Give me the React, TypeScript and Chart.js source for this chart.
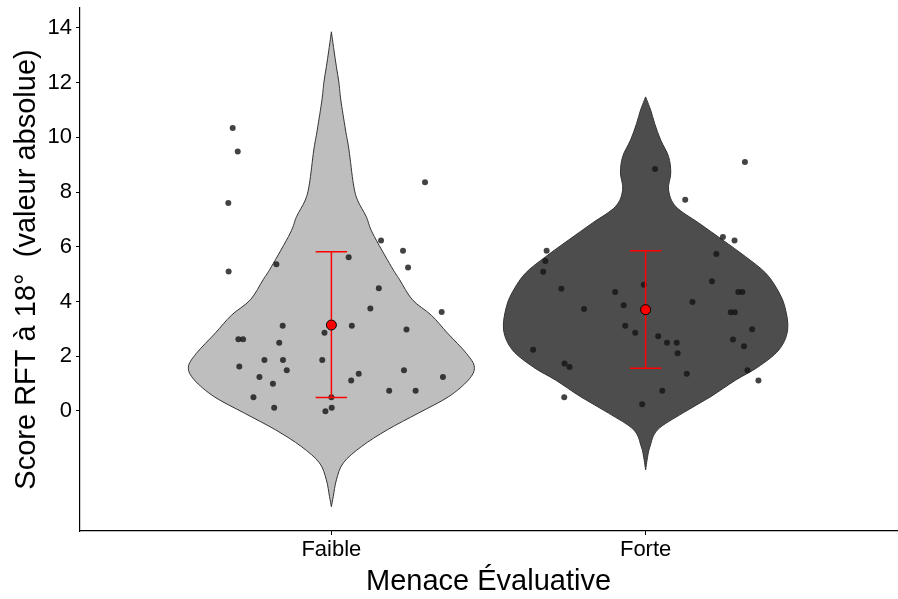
import React, { useEffect, useRef } from "react";
import { Chart, registerables } from "chart.js";

Chart.register(...registerables);

const categories = ["Faible", "Forte"];
const yTickValues = [0, 2, 4, 6, 8, 10, 12, 14];

// jittered observations
const faibleX = [0.686, 0.702, 0.672, 1.298, 1.158, 1.228, 1.055, 1.244, 0.825, 0.673, 1.151, 1.124, 1.351, 0.845, 1.065, 1.239, 0.978, 0.704, 0.719, 0.834, 0.787, 0.846, 0.971, 0.707, 0.858, 1.231, 1.087, 0.771, 1.355, 1.063, 0.814, 1.184, 1.268, 0.752, 1.0, 0.818, 1.001, 0.981];
const faibleY = [10.34, 9.48, 7.6, 8.36, 6.23, 5.86, 5.62, 5.24, 5.36, 5.1, 4.48, 3.74, 3.62, 3.11, 3.11, 2.98, 2.86, 2.62, 2.62, 2.49, 1.86, 1.86, 1.86, 1.62, 1.49, 1.49, 1.36, 1.24, 1.24, 1.11, 0.99, 0.74, 0.74, 0.5, 0.5, 0.12, 0.12, -0.01];
const forteX = [2.03, 2.316, 2.126, 2.246, 2.283, 1.685, 1.681, 1.674, 2.225, 1.994, 2.211, 1.732, 1.903, 2.295, 2.308, 1.93, 2.149, 1.804, 2.271, 2.284, 1.935, 1.967, 2.339, 2.04, 2.068, 2.099, 2.278, 2.102, 2.313, 1.642, 1.742, 1.758, 2.131, 2.324, 2.359, 2.053, 1.741, 1.989];
const forteY = [8.84, 9.1, 7.72, 6.36, 6.23, 5.86, 5.48, 5.09, 5.74, 4.61, 4.74, 4.47, 4.35, 4.35, 4.35, 3.86, 3.98, 3.73, 3.61, 3.61, 3.11, 2.86, 2.99, 2.73, 2.49, 2.49, 2.61, 2.11, 2.36, 2.24, 1.73, 1.61, 1.36, 1.49, 1.11, 0.74, 0.5, 0.24];

// summary statistics
const means = [3.14, 3.7];
const errLow = [0.49, 1.56];
const errHigh = [5.82, 5.86];

// violin density profiles (half-width in category units)
const violinFaibleY = [-3.5, -3.13, -2.52, -1.9, -1.3, -0.69, -0.08, 0.52, 1.13, 1.6, 2.1, 2.85, 3.5, 4.06, 4.8, 5.27, 6.5, 7.1, 7.71, 8.3, 9.54, 10.27, 11.37, 12.0, 12.58, 13.2, 13.86];
const violinFaibleW = [0, 0.006, 0.016, 0.038, 0.096, 0.178, 0.277, 0.373, 0.436, 0.455, 0.43, 0.369, 0.318, 0.258, 0.217, 0.191, 0.131, 0.111, 0.083, 0.07, 0.056, 0.045, 0.03, 0.024, 0.016, 0.008, 0];
const violinForteY = [-2.16, -1.7, -1.3, -0.69, -0.08, 0.52, 1.13, 1.6, 2.23, 2.96, 3.81, 4.42, 5.04, 5.64, 6.25, 6.87, 7.47, 8.08, 8.7, 9.3, 9.9, 10.5, 11.0, 11.48];
const violinForteW = [0, 0.006, 0.014, 0.038, 0.118, 0.207, 0.287, 0.357, 0.424, 0.452, 0.443, 0.42, 0.382, 0.318, 0.245, 0.169, 0.096, 0.073, 0.08, 0.073, 0.048, 0.029, 0.016, 0];

const violinFills = ["#bebebe", "#4d4d4d"];
const CAP = 0.05;
const FONT = "Liberation Sans, Arial, sans-serif";

const violins = [
  { center: 1, ys: violinFaibleY, ws: violinFaibleW, fill: violinFills[0] },
  { center: 2, ys: violinForteY, ws: violinForteW, fill: violinFills[1] },
];

function smoothPath(ctx: CanvasRenderingContext2D, pts: { x: number; y: number }[], move: boolean) {
  if (move) ctx.moveTo(pts[0].x, pts[0].y);
  else ctx.lineTo(pts[0].x, pts[0].y);
  for (let i = 0; i < pts.length - 1; i++) {
    const p0 = pts[Math.max(0, i - 1)];
    const p1 = pts[i];
    const p2 = pts[i + 1];
    const p3 = pts[Math.min(pts.length - 1, i + 2)];
    ctx.bezierCurveTo(
      p1.x + (p2.x - p0.x) / 6,
      p1.y + (p2.y - p0.y) / 6,
      p2.x - (p3.x - p1.x) / 6,
      p2.y - (p3.y - p1.y) / 6,
      p2.x,
      p2.y
    );
  }
}

const violinPlugin = {
  id: "violins",
  beforeDatasetsDraw(chart: any) {
    const { ctx, scales, chartArea } = chart;
    const xs = scales.x;
    const ys = scales.y;
    ctx.save();
    ctx.beginPath();
    ctx.rect(chartArea.left, chartArea.top, chartArea.right - chartArea.left, chartArea.bottom - chartArea.top);
    ctx.clip();
    for (const v of violins) {
      const left = v.ys.map((y, i) => ({ x: xs.getPixelForValue(v.center - v.ws[i]), y: ys.getPixelForValue(y) }));
      const right = v.ys
        .map((y, i) => ({ x: xs.getPixelForValue(v.center + v.ws[i]), y: ys.getPixelForValue(y) }))
        .reverse();
      ctx.beginPath();
      smoothPath(ctx, left, true);
      smoothPath(ctx, right, false);
      ctx.closePath();
      ctx.fillStyle = v.fill;
      ctx.fill();
      ctx.lineWidth = 1;
      ctx.strokeStyle = "#333333";
      ctx.stroke();
    }
    ctx.restore();
  },
};

export default function App() {
  const ref = useRef<HTMLCanvasElement | null>(null);
  useEffect(() => {
    if (!ref.current) return;
    const pointsData = [
      ...faibleX.map((x, i) => ({ x, y: faibleY[i] })),
      ...forteX.map((x, i) => ({ x, y: forteY[i] })),
    ];
    const errorData: any[] = [];
    means.forEach((_, i) => {
      const c = i + 1;
      errorData.push({ x: c, y: errLow[i] }, { x: c, y: errHigh[i] }, { x: c, y: null });
      errorData.push({ x: c - CAP, y: errHigh[i] }, { x: c + CAP, y: errHigh[i] }, { x: c, y: null });
      errorData.push({ x: c - CAP, y: errLow[i] }, { x: c + CAP, y: errLow[i] }, { x: c, y: null });
    });
    const chart = new Chart(ref.current, {
      type: "scatter",
      data: {
        datasets: [
          {
            label: "mean",
            data: means.map((m, i) => ({ x: i + 1, y: m })),
            pointRadius: 5,
            pointBackgroundColor: "#ff0000",
            pointBorderColor: "#000000",
            pointBorderWidth: 1,
            order: 1,
          },
          {
            label: "err",
            data: errorData,
            showLine: true,
            spanGaps: false,
            borderColor: "#ff0000",
            borderWidth: 1.5,
            pointRadius: 0,
            order: 2,
          },
          {
            label: "obs",
            data: pointsData,
            pointRadius: 3,
            pointBackgroundColor: "rgba(20,20,20,0.8)",
            pointBorderWidth: 0,
            order: 3,
          },
        ],
      },
      options: {
        animation: false,
        responsive: false,
        events: [],
        layout: { autoPadding: false, padding: { top: 8, right: 1, left: 0, bottom: 0 } },
        plugins: { legend: { display: false }, tooltip: { enabled: false } },
        scales: {
          x: {
            type: "linear",
            min: 0.2,
            max: 2.8,
            afterBuildTicks: (s: any) => {
              s.ticks = categories.map((_, i) => ({ value: i + 1 }));
            },
            afterFit: (s: any) => {
              s.height = 68;
              s.paddingLeft = 0;
              s.paddingRight = 0;
            },
            ticks: {
              callback: (v: any) => categories[Math.round(Number(v)) - 1] ?? "",
              color: "#000000",
              font: { family: FONT, size: 22 },
              padding: 2,
              maxRotation: 0,
              autoSkip: false,
            },
            grid: { drawOnChartArea: false, drawTicks: true, tickLength: 4, color: "#000000" },
            border: { display: true, color: "#000000", width: 1.2 },
            title: {
              display: true,
              text: "Menace Évaluative",
              color: "#000000",
              font: { family: FONT, size: 29 },
              padding: { top: 0, bottom: 0 },
            },
          },
          y: {
            type: "linear",
            min: -4.39,
            max: 14.73,
            afterBuildTicks: (s: any) => {
              s.ticks = yTickValues.map((v) => ({ value: v }));
            },
            afterFit: (s: any) => {
              s.width = 80;
              s.paddingTop = 0;
              s.paddingBottom = 0;
            },
            ticks: {
              color: "#000000",
              font: { family: FONT, size: 22 },
              padding: 4,
              autoSkip: false,
            },
            grid: { drawOnChartArea: false, drawTicks: true, tickLength: 4, color: "#000000" },
            border: { display: true, color: "#000000", width: 1.2 },
            title: {
              display: true,
              text: "Score RFT à 18°  (valeur absolue)",
              color: "#000000",
              font: { family: FONT, size: 29 },
              padding: { top: 10, bottom: 0 },
            },
          },
        },
      },
      plugins: [violinPlugin],
    } as any);
    return () => chart.destroy();
  }, []);
  return (
    <div style={{ position: "fixed", left: 0, top: 0, width: 898, height: 599, background: "#ffffff" }}>
      <canvas ref={ref} width={898} height={599} style={{ display: "block", width: 898, height: 599 }} />
    </div>
  );
}
